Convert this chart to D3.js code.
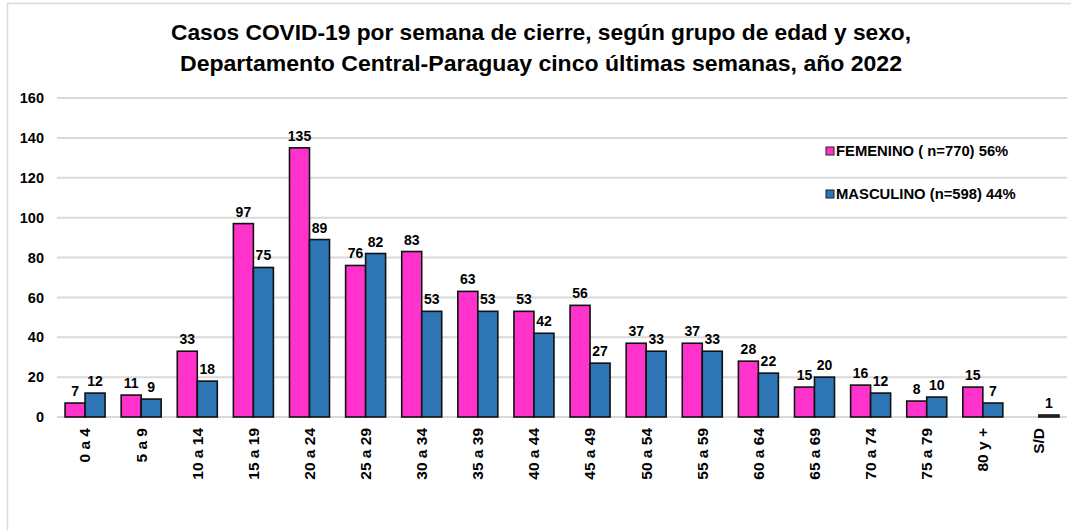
<!DOCTYPE html>
<html>
<head>
<meta charset="utf-8">
<script src="https://cdn.jsdelivr.net/npm/d3@7"></script>
<style>
  body { margin: 0; background: #fff; }
  text { font-family: "Liberation Sans", Arial, sans-serif; font-weight: bold; fill: #000; }
</style>
</head>
<body>
<svg id="chart" width="1071" height="530"></svg>
<script>
// data
var grupos = ["0 a 4", "5 a 9", "10 a 14", "15 a 19", "20 a 24", "25 a 29", "30 a 34", "35 a 39",
  "40 a 44", "45 a 49", "50 a 54", "55 a 59", "60 a 64", "65 a 69", "70 a 74", "75 a 79", "80 y +", "S/D"];
var femenino = [7, 11, 33, 97, 135, 76, 83, 63, 53, 56, 37, 37, 28, 15, 16, 8, 15, null];
var masculino = [12, 9, 18, 75, 89, 82, 53, 53, 42, 27, 33, 33, 22, 20, 12, 10, 7, 1];
var yTicks = [0, 20, 40, 60, 80, 100, 120, 140, 160];
var series = [
  { name: "FEMENINO ( n=770) 56%", values: femenino, color: "#FF33CC" },
  { name: "MASCULINO (n=598) 44%", values: masculino, color: "#2E75B6" }
];

const svg = d3.select("#chart")
const plotLeft = 57, plotRight = 1067, plotTop = 98, plotBottom = 417
const barW = 20

// frame
svg.append("rect")
  .attr("x", 7.5).attr("y", 3.5).attr("width", 1080).attr("height", 540)
  .attr("fill", "none").attr("stroke", "#d9d9d9").attr("stroke-width", 1.5)

// title
const title = svg.append("g")
const lines = ["Casos COVID-19 por semana de cierre, según grupo de edad y sexo,",
  "Departamento Central-Paraguay cinco últimas semanas, año 2022"]
const widths = [740, 722]
lines.forEach(function(l, i) {
  title.append("text")
    .attr("x", 541).attr("y", 40 + i * 31)
    .attr("text-anchor", "middle")
    .attr("font-size", 22)
    .attr("textLength", widths[i])
    .attr("lengthAdjust", "spacingAndGlyphs")
    .text(l)
})

const x = d3.scaleBand().domain(grupos).range([plotLeft, plotRight])
const y = d3.scaleLinear().domain([0, 160]).range([plotBottom, plotTop])

// gridlines
svg.append("g").selectAll("line")
  .data(yTicks)
  .enter().append("line")
  .attr("x1", plotLeft).attr("x2", plotRight)
  .attr("y1", d => y(d)).attr("y2", d => y(d))
  .attr("stroke", "#d9d9d9").attr("stroke-width", 2)

// y axis labels
const yAxis = d3.axisLeft(y).tickValues(yTicks).tickSize(0).tickPadding(0)
svg.append("g")
  .attr("transform", "translate(44,0)")
  .call(yAxis)
  .call(g => g.select(".domain").remove())
  .selectAll("text")
  .attr("font-size", 14.5)
  .attr("font-family", "Liberation Sans, Arial, sans-serif")
  .attr("font-weight", "bold")
  .attr("fill", "#000")

// bars
series.forEach(function(s, si) {
  const g = svg.append("g")
  const pts = grupos.map((c, i) => ({ c: c, v: s.values[i] })).filter(d => d.v != null)
  g.selectAll("rect")
    .data(pts)
    .enter().append("rect")
    .attr("x", d => x(d.c) + x.bandwidth() / 2 - barW + si * barW)
    .attr("y", d => y(d.v))
    .attr("width", barW)
    .attr("height", d => y(0) - y(d.v))
    .attr("fill", s.color)
    .attr("stroke", "#111")
    .attr("stroke-width", 1.6)
  g.selectAll("text")
    .data(pts)
    .enter().append("text")
    .attr("x", d => x(d.c) + x.bandwidth() / 2 - barW / 2 + si * barW)
    .attr("y", d => y(d.v) - 7)
    .attr("text-anchor", "middle")
    .attr("font-size", 14)
    .text(d => d.v)
})

// x axis labels (rotated)
const xAxis = d3.axisBottom(x).tickSize(0).tickPadding(0)
svg.append("g")
  .attr("transform", "translate(0," + plotBottom + ")")
  .call(xAxis)
  .call(g => g.select(".domain").remove())
  .selectAll("text")
  .attr("font-size", 15.5)
  .attr("font-family", "Liberation Sans, Arial, sans-serif")
  .attr("font-weight", "bold")
  .attr("fill", "#000")
  .attr("text-anchor", "end")
  .attr("dy", "0.35em")
  .attr("transform", "translate(0,11) rotate(-90)")

// legend
const legend = svg.append("g")
series.forEach(function(s, i) {
  const ly = 151 + i * 43
  legend.append("rect")
    .attr("x", 826).attr("y", ly - 4).attr("width", 8).attr("height", 8)
    .attr("fill", s.color).attr("stroke", "#222").attr("stroke-width", 1)
  legend.append("text")
    .attr("x", 836).attr("y", ly + 5)
    .attr("font-size", 14.8)
    .text(s.name)
})
</script>
</body>
</html>
